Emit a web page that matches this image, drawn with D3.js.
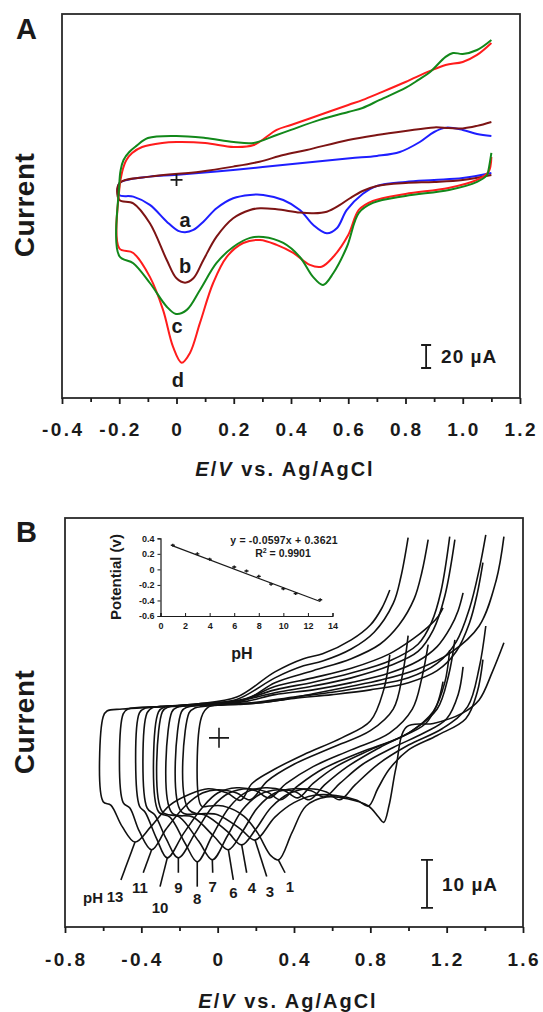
<!DOCTYPE html>
<html>
<head>
<meta charset="utf-8">
<script src="https://cdn.jsdelivr.net/npm/d3@7"></script>
<style>
  body { margin: 0; background: #fff; }
  svg { display: block; font-family: "Liberation Sans", Arial, sans-serif; font-weight: bold; }
</style>
</head>
<body>
<svg id="chart" width="543" height="1012"></svg>
<script>
// ---- panel A: CVs at -0.2..1.1 V, values as [E (V), current (uA)] ----
const xTicksA = [-0.4, -0.2, 0, 0.2, 0.4, 0.6, 0.8, 1.0, 1.2];
const xTickLabelsA = ['-0.4', '-0.2', '0', '0.2', '0.4', '0.6', '0.8', '1.0', '1.2'];
const xMinorA = [-0.3, -0.1, 0.1, 0.3, 0.5, 0.7, 0.9, 1.1];

const cvA_a = [[1.10,6.1],[1.00,1.7],[0.90,0],[0.80,-1.7],[0.70,-5.2],[0.65,-12.2],[0.595,-26.1],[0.56,-42.0],[0.525,-46.3],[0.478,-39.1],[0.431,-26.1],[0.373,-17.4],[0.303,-13.0],[0.257,-13.0],[0.198,-15.9],[0.14,-24.6],[0.094,-36.3],[0.059,-43.5],[0.03,-45.5],[0.006,-44.3],[-0.034,-36.3],[-0.093,-21.7],[-0.151,-14.5],[-0.2,-13.0],[-0.2,-2.9],[-0.093,2.9],[-0.006,4.3],[0.198,8.7],[0.431,14.5],[0.606,18.9],[0.70,20.9],[0.78,24.3],[0.85,33.0],[0.90,41.7],[0.942,45.5],[1.00,43.5],[1.05,40.0],[1.10,38.3]];
const cvA_b = [[1.10,4.3],[1.00,0],[0.90,-1.7],[0.80,-2.6],[0.70,-5.2],[0.65,-9.6],[0.606,-15.9],[0.571,-21.7],[0.525,-27.6],[0.478,-29.0],[0.431,-28.4],[0.35,-25.5],[0.292,-24.6],[0.257,-26.1],[0.198,-33.3],[0.14,-49.3],[0.094,-69.6],[0.059,-85.5],[0.03,-89.3],[0.0,-85.5],[-0.034,-69.6],[-0.093,-37.7],[-0.151,-20.3],[-0.2,-17.4],[-0.2,-2.9],[-0.093,2.9],[0.082,7.2],[0.198,11.6],[0.29,15.9],[0.373,21.7],[0.455,26.1],[0.6,34.8],[0.7,39.1],[0.8,42.6],[0.9,45.7],[0.95,45.2],[1.0,44.8],[1.05,47.0],[1.1,50.4]];
const cvA_c = [[1.10,23.5],[1.09,8.7],[1.085,4.3],[1.05,-1.7],[0.952,-8.7],[0.8,-13.9],[0.686,-20.0],[0.637,-28.7],[0.595,-58.3],[0.548,-80.9],[0.512,-91.3],[0.477,-84.3],[0.431,-67.0],[0.373,-54.8],[0.303,-49.6],[0.257,-50.4],[0.198,-58.3],[0.14,-72.2],[0.082,-95.7],[0.036,-113.0],[-0.002,-116.5],[-0.034,-110.2],[-0.093,-89.6],[-0.151,-72.4],[-0.2,-66.1],[-0.2,-4.3],[-0.195,8.7],[-0.185,17.4],[-0.165,24.3],[-0.14,29.6],[-0.1,36.5],[0.0,38.3],[0.1,36.5],[0.2,33.0],[0.27,32.2],[0.35,39.1],[0.4,43.5],[0.5,52.2],[0.6,59.1],[0.65,62.6],[0.71,69.6],[0.8,80.0],[0.845,87.0],[0.886,93.9],[0.94,107.0],[0.966,110.4],[1.0,109.6],[1.05,113.0],[1.1,121.7]];
const cvA_d = [[1.10,20.0],[1.09,7.0],[1.05,0],[0.95,-7.0],[0.8,-12.2],[0.686,-18.3],[0.637,-26.1],[0.6,-47.8],[0.547,-67.0],[0.507,-75.4],[0.466,-73.9],[0.408,-63.5],[0.35,-56.5],[0.292,-52.2],[0.233,-54.8],[0.175,-67.0],[0.128,-89.6],[0.082,-124.3],[0.047,-150.4],[0.018,-158.9],[-0.012,-145.2],[-0.047,-113.0],[-0.093,-84.3],[-0.151,-63.5],[-0.2,-59.4],[-0.2,-8.7],[-0.19,7.0],[-0.175,17.4],[-0.155,23.5],[-0.12,28.7],[-0.05,32.2],[0.0,33.0],[0.1,32.2],[0.2,28.7],[0.27,30.4],[0.35,43.5],[0.4,47.8],[0.5,56.5],[0.6,65.2],[0.651,69.6],[0.71,75.7],[0.8,85.2],[0.886,94.8],[0.94,100.0],[1.0,102.6],[1.05,108.7],[1.1,119.1]];

const curveNamesA = ['a', 'b', 'd', 'c'];
const curveColoursA = ['#1e1eff', '#7d1414', '#ff1c1c', '#12881a'];
const curveLabelPosA = [[0.03,-34.8],[0.03,-74.8],[0.002,-127],[0.005,-174]]; // a, b, c, d
const curveLabelTextA = ['a', 'b', 'c', 'd'];
const scaleBarA = [0.872, -143.5, 20]; // E, top current, length (uA)

// ---- panel B: CVs at pH 1..13 ----
const xTicksB = [-0.8, -0.4, 0, 0.4, 0.8, 1.2, 1.6];
const xTickLabelsB = ['-0.8', '-0.4', '0', '0.4', '0.8', '1.2', '1.6'];
const xMinorB = [-0.6, -0.2, 0.2, 0.6, 1.0, 1.4];

const cvPH13 = [[0.902,17.3],[0.87,10.0],[0.80,3.5],[0.65,0.0],[0.45,-3.5],[0.30,-6.5],[0.18,-9.5],[0.12,-13.0],[0.05,-11.5],[-0.05,-10.6],[-0.15,-11.8],[-0.25,-14.0],[-0.35,-18.5],[-0.433,-21.7],[-0.50,-18.5],[-0.56,-14.0],[-0.60,-13.3],[-0.60,4.4],[-0.58,5.6],[-0.50,6.0],[-0.30,6.5],[-0.10,7.1],[0.10,8.5],[0.30,13.75],[0.45,16.5],[0.55,17.5],[0.70,20.4],[0.80,23.5],[0.86,27.0],[0.902,30.8]];
const cvPH11 = [[0.998,21.3],[0.97,13.5],[0.92,6.0],[0.80,1.5],[0.60,-2.0],[0.40,-5.5],[0.26,-9.0],[0.17,-12.9],[0.10,-11.5],[0.0,-10.8],[-0.08,-11.5],[-0.17,-14.2],[-0.27,-19.0],[-0.346,-23.3],[-0.41,-19.5],[-0.46,-14.6],[-0.495,-13.5],[-0.495,5.0],[-0.47,6.0],[-0.30,6.5],[-0.10,7.1],[0.10,8.0],[0.30,12.5],[0.45,15.0],[0.55,16.0],[0.70,18.5],[0.82,22.0],[0.92,28.0],[0.96,33.5],[0.998,41.7]];
const cvPH10 = [[1.103,19.4],[1.07,12.5],[1.02,6.0],[0.90,1.0],[0.70,-2.5],[0.50,-6.0],[0.36,-9.5],[0.27,-12.5],[0.20,-11.0],[0.10,-10.4],[0.0,-11.5],[-0.08,-14.5],[-0.18,-20.0],[-0.264,-25.0],[-0.32,-21.0],[-0.38,-15.5],[-0.41,-14.2],[-0.41,5.2],[-0.38,6.2],[-0.20,6.6],[0.0,7.2],[0.15,8.0],[0.30,11.5],[0.50,14.0],[0.70,16.5],[0.85,19.5],[0.95,23.5],[1.03,29.0],[1.07,34.5],[1.103,41.3]];
const cvPH9 = [[1.181,11.7],[1.15,7.0],[1.09,3.0],[0.95,0.0],[0.75,-3.0],[0.55,-6.5],[0.42,-10.0],[0.33,-12.9],[0.26,-11.3],[0.16,-10.6],[0.06,-11.5],[-0.03,-14.5],[-0.12,-20.0],[-0.206,-25.0],[-0.27,-21.0],[-0.33,-16.0],[-0.37,-14.6],[-0.37,5.2],[-0.34,6.3],[-0.20,6.7],[0.0,7.3],[0.15,8.2],[0.30,10.7],[0.50,12.5],[0.70,14.5],[0.90,17.5],[1.02,20.5],[1.10,23.0],[1.15,25.0],[1.181,27.1]];
const cvPH8 = [[1.216,18.3],[1.19,11.5],[1.13,5.5],[1.0,1.0],[0.80,-2.5],[0.62,-6.0],[0.50,-9.5],[0.42,-12.5],[0.35,-11.0],[0.25,-10.4],[0.15,-11.3],[0.06,-14.5],[-0.03,-20.5],[-0.107,-25.8],[-0.17,-22.0],[-0.25,-16.5],[-0.31,-15.4],[-0.31,5.4],[-0.28,6.4],[-0.10,6.8],[0.10,7.6],[0.30,10.0],[0.50,11.6],[0.70,13.5],[0.90,16.0],[1.05,19.5],[1.12,24.0],[1.17,30.5],[1.216,41.9]];
const cvPH7 = [[1.243,20.4],[1.21,13.0],[1.15,6.0],[1.02,1.5],[0.85,-2.0],[0.68,-6.0],[0.56,-9.8],[0.48,-12.9],[0.41,-11.3],[0.32,-10.8],[0.22,-11.8],[0.13,-15.0],[0.05,-20.5],[-0.028,-25.4],[-0.10,-21.5],[-0.20,-16.5],[-0.29,-15.4],[-0.29,5.4],[-0.26,6.4],[-0.10,6.9],[0.10,7.6],[0.30,9.4],[0.50,10.8],[0.70,12.5],[0.90,15.0],[1.05,18.0],[1.13,22.5],[1.19,29.5],[1.243,41.3]];
const cvPH6 = [[1.286,14.8],[1.26,9.0],[1.20,4.0],[1.08,1.0],[0.92,-2.0],[0.76,-5.5],[0.64,-9.5],[0.56,-12.3],[0.49,-11.0],[0.40,-10.6],[0.30,-11.5],[0.21,-14.5],[0.13,-19.5],[0.056,-23.3],[-0.02,-20.5],[-0.13,-16.5],[-0.24,-15.6],[-0.24,5.4],[-0.21,6.4],[0.0,7.0],[0.15,7.6],[0.30,9.0],[0.50,10.0],[0.70,11.5],[0.90,13.5],[1.05,16.0],[1.15,19.0],[1.22,23.0],[1.26,26.5],[1.286,30.2]];
const cvPH4 = [[1.405,23.3],[1.37,14.5],[1.31,6.5],[1.18,2.0],[1.0,-1.5],[0.84,-5.5],[0.72,-9.8],[0.64,-12.9],[0.57,-11.3],[0.48,-10.6],[0.38,-11.5],[0.28,-14.5],[0.20,-19.0],[0.126,-22.3],[0.05,-19.5],[-0.07,-16.0],[-0.19,-15.4],[-0.19,5.4],[-0.16,6.4],[0.0,6.9],[0.20,7.4],[0.40,8.5],[0.60,9.5],[0.80,10.8],[1.0,12.5],[1.15,15.5],[1.25,20.0],[1.32,27.0],[1.37,35.0],[1.405,42.3]];
const cvPH3 = [[1.39,16.3],[1.36,9.5],[1.30,4.0],[1.15,0.5],[1.0,-2.5],[0.90,-6.5],[0.84,-10.5],[0.79,-14.2],[0.73,-13.0],[0.62,-12.0],[0.50,-12.0],[0.40,-13.5],[0.30,-16.5],[0.196,-21.3],[0.12,-19.0],[0.0,-16.0],[-0.15,-15.0],[-0.15,5.2],[-0.12,6.2],[0.0,6.8],[0.20,7.2],[0.40,8.2],[0.60,9.0],[0.80,10.0],[1.0,11.5],[1.15,14.0],[1.25,18.0],[1.32,24.0],[1.36,30.0],[1.39,36.5]];
const cvPH1 = [[1.50,19.8],[1.44,13.8],[1.37,7.9],[1.28,5.1],[1.13,3.0],[0.99,2.3],[0.934,-6.3],[0.898,-14.1],[0.87,-17.6],[0.843,-16.5],[0.79,-14.2],[0.68,-12.7],[0.571,-12.3],[0.463,-14.2],[0.39,-19.7],[0.32,-25.4],[0.28,-24.6],[0.209,-19.8],[0.137,-16.3],[0.028,-14.2],[-0.045,-14.2],[-0.085,-14.2],[-0.085,4.3],[-0.045,6.5],[0.137,7.0],[0.316,7.8],[0.5,9.2],[0.68,10.6],[0.86,12.1],[1.04,14.2],[1.22,17.7],[1.37,23.3],[1.46,32.9],[1.50,41.9]];

const phCurves = [cvPH13, cvPH11, cvPH10, cvPH9, cvPH8, cvPH7, cvPH6, cvPH4, cvPH3, cvPH1];
const phLabels = ['13', '11', '10', '9', '8', '7', '6', '4', '3', '1'];
const phPeaks = [[-0.433,-21.7],[-0.346,-23.3],[-0.264,-25.0],[-0.206,-25.0],[-0.107,-25.8],[-0.028,-25.4],[0.056,-23.3],[0.126,-22.3],[0.196,-21.3],[0.318,-25.4]];
const phLeaderEnds = [[-0.507,-29.6],[-0.390,-28.1],[-0.302,-31.0],[-0.206,-28.1],[-0.107,-31.0],[-0.026,-28.1],[0.082,-29.6],[0.152,-28.1],[0.257,-28.9],[0.353,-28.1]];
const phLabelPos = [[-0.538,-33.1],[-0.407,-31.25],[-0.302,-35.4],[-0.206,-31.25],[-0.107,-33.5],[-0.026,-31.0],[0.082,-32.3],[0.179,-31.25],[0.274,-32.0],[0.379,-31.0]];
const scaleBarB = [1.097, -25.4, 10];

// ---- inset: peak potential vs pH ----
const insetPH = [1, 3, 4, 6, 7, 8, 9, 10, 11, 13];
const insetPotential = [0.31, 0.20, 0.13, 0.03, -0.02, -0.09, -0.19, -0.25, -0.31, -0.39];
const insetFit = [[1, 0.302], [13, -0.414]];
const insetXTicks = [0, 2, 4, 6, 8, 10, 12, 14];
const insetYTicks = [0.4, 0.2, 0, -0.2, -0.4, -0.6];

const svg = d3.select('#chart');
const ink = '#1a1a1a';

function drawPanel({ x, y, top, bottom, left, right, ticks, tickLabels, minor, labelY, titleY, letter, letterY, currentY }) {
  const g = svg.append('g');
  g.append('rect')
    .attr('x', left).attr('y', top)
    .attr('width', right - left).attr('height', bottom - top)
    .attr('fill', 'none').attr('stroke', '#2a2a2a').attr('stroke-width', 1.8);

  g.append('g')
    .attr('transform', `translate(0,${bottom})`)
    .call(d3.axisBottom(x).tickValues(ticks).tickSize(6).tickFormat(''))
    .call((a) => a.select('.domain').remove())
    .selectAll('line').attr('stroke', ink).attr('stroke-width', 1.8);

  g.append('g')
    .attr('transform', `translate(0,${bottom})`)
    .call(d3.axisBottom(x).tickValues(minor).tickSize(4).tickFormat(''))
    .call((a) => a.select('.domain').remove())
    .selectAll('line').attr('stroke', ink).attr('stroke-width', 1.8);

  g.selectAll('text.tick-label')
    .data(ticks)
    .join('text')
    .attr('class', 'tick-label')
    .attr('x', (d) => x(d) + 1.2)
    .attr('y', labelY)
    .attr('text-anchor', 'middle')
    .attr('font-size', 19)
    .attr('letter-spacing', 2.4)
    .attr('fill', ink)
    .text((d, i) => tickLabels[i]);

  const title = g.append('text')
    .attr('x', (left + right) / 2 - 6)
    .attr('y', titleY)
    .attr('text-anchor', 'middle')
    .attr('font-size', 20)
    .attr('letter-spacing', 2)
    .attr('fill', ink);
  title.append('tspan').attr('font-style', 'italic').text('E');
  title.append('tspan').text('/');
  title.append('tspan').attr('font-style', 'italic').text('V');
  title.append('tspan').text(' vs. Ag/AgCl');

  g.append('text')
    .attr('transform', `translate(34,${currentY}) rotate(-90)`)
    .attr('text-anchor', 'middle')
    .attr('font-size', 28)
    .attr('letter-spacing', 0.5)
    .attr('fill', ink)
    .text('Current');

  g.append('text')
    .attr('x', 16).attr('y', letterY)
    .attr('font-size', 29)
    .attr('fill', ink)
    .text(letter);
  return g;
}

function drawScaleBar(g, x, y, bar, label, cap) {
  const top = y(bar[1]);
  const bottom = y(bar[1] - bar[2]);
  const cx = x(bar[0]);
  g.append('path')
    .attr('d', `M${cx},${top}V${bottom}M${cx - cap},${top}H${cx + cap}M${cx - cap},${bottom}H${cx + cap}`)
    .attr('stroke', ink).attr('stroke-width', 1.8).attr('fill', 'none');
  g.append('text')
    .attr('x', cx + 15)
    .attr('y', (top + bottom) / 2 + 7)
    .attr('font-size', 19)
    .attr('letter-spacing', 1)
    .attr('fill', ink)
    .text(label);
}

function drawCross(g, cx, cy, half, width) {
  g.append('path')
    .attr('d', `M${cx - half},${cy}H${cx + half}M${cx},${cy - half}V${cy + half}`)
    .attr('stroke', ink).attr('stroke-width', width);
}

// ---------- Panel A ----------
const xA = d3.scaleLinear().domain([-0.4, 1.2]).range([62, 520]);
const yA = d3.scaleLinear().domain([-189.6, 144.3]).range([398, 14]);
const gA = drawPanel({
  x: xA, y: yA, top: 14, bottom: 398, left: 62, right: 520,
  ticks: xTicksA, tickLabels: xTickLabelsA, minor: xMinorA,
  labelY: 436, titleY: 476, letter: 'A', letterY: 39, currentY: 205
});

const lineA = d3.line()
  .x((d) => xA(d[0]))
  .y((d) => yA(d[1]))
  .curve(d3.curveCatmullRom.alpha(0.5));

const seriesA = { a: cvA_a, b: cvA_b, c: cvA_c, d: cvA_d };
curveNamesA.forEach((name, i) => {
  gA.append('path')
    .datum(seriesA[name])
    .attr('d', lineA)
    .attr('fill', 'none')
    .attr('stroke', curveColoursA[i])
    .attr('stroke-width', 2);
});

gA.selectAll('text.curve-label')
  .data(curveLabelPosA)
  .join('text')
  .attr('class', 'curve-label')
  .attr('x', (d) => xA(d[0]))
  .attr('y', (d) => yA(d[1]))
  .attr('dy', '0.36em')
  .attr('text-anchor', 'middle')
  .attr('font-size', 20)
  .attr('fill', ink)
  .text((d, i) => curveLabelTextA[i]);

drawCross(gA, xA(0), yA(0), 6, 1.8);
drawScaleBar(gA, xA, yA, scaleBarA, '20 µA', 5);

// ---------- Panel B ----------
const xB = d3.scaleLinear().domain([-0.8, 1.6]).range([65, 523]);
const yB = d3.scaleLinear().domain([-39.4, 45.8]).range([927, 518]);
const gB = drawPanel({
  x: xB, y: yB, top: 518, bottom: 927, left: 65, right: 523,
  ticks: xTicksB, tickLabels: xTickLabelsB, minor: xMinorB,
  labelY: 966, titleY: 1008, letter: 'B', letterY: 542, currentY: 722
});

const lineB = d3.line()
  .x((d) => xB(d[0]))
  .y((d) => yB(d[1]))
  .curve(d3.curveCatmullRom.alpha(0.5));

gB.selectAll('path.cv')
  .data(phCurves)
  .join('path')
  .attr('class', 'cv')
  .attr('d', lineB)
  .attr('fill', 'none')
  .attr('stroke', '#111')
  .attr('stroke-width', 1.6);

gB.selectAll('line.leader')
  .data(phPeaks)
  .join('line')
  .attr('class', 'leader')
  .attr('x1', (d) => xB(d[0]))
  .attr('y1', (d) => yB(d[1]))
  .attr('x2', (d, i) => xB(phLeaderEnds[i][0]))
  .attr('y2', (d, i) => yB(phLeaderEnds[i][1]))
  .attr('stroke', '#111')
  .attr('stroke-width', 1.6);

gB.selectAll('text.ph-label')
  .data(phLabelPos)
  .join('text')
  .attr('class', 'ph-label')
  .attr('x', (d) => xB(d[0]))
  .attr('y', (d) => yB(d[1]))
  .attr('dy', '0.36em')
  .attr('text-anchor', 'middle')
  .attr('font-size', 15)
  .attr('fill', ink)
  .text((d, i) => phLabels[i]);

gB.append('text')
  .attr('x', xB(phLabelPos[0][0]) - 12)
  .attr('y', yB(phLabelPos[0][1]) + 1)
  .attr('dy', '0.36em')
  .attr('text-anchor', 'end')
  .attr('font-size', 15)
  .attr('fill', ink)
  .text('pH');

drawCross(gB, xB(0.007), yB(0), 10, 1.6);
drawScaleBar(gB, xB, yB, scaleBarB, '10 µA', 6);

// ---------- Inset ----------
const xIn = d3.scaleLinear().domain([0, 14]).range([160.5, 332.5]);
const yIn = d3.scaleLinear().domain([-0.6, 0.4]).range([616, 538.3]);
const gIn = gB.append('g').attr('font-size', 9);

gIn.append('g')
  .attr('transform', 'translate(160.5,0)')
  .call(d3.axisLeft(yIn).tickValues(insetYTicks).tickSize(3).tickPadding(3).tickFormat((d, i) => ['0.4', '0.2', '0', '-0.2', '-0.4', '-0.6'][i]))
  .call((a) => a.select('.domain').attr('stroke', ink).attr('stroke-width', 1.2))
  .call((a) => a.selectAll('line').attr('stroke', ink))
  .call((a) => a.selectAll('text').attr('font-size', 9).attr('fill', ink).attr('font-weight', 'bold'));

gIn.append('g')
  .attr('transform', 'translate(0,616)')
  .call(d3.axisBottom(xIn).tickValues(insetXTicks).tickSize(-3).tickPadding(7).tickFormat(d3.format('d')))
  .call((a) => a.select('.domain').attr('stroke', ink).attr('stroke-width', 1.2))
  .call((a) => a.selectAll('line').attr('stroke', ink))
  .call((a) => a.selectAll('text').attr('font-size', 9).attr('fill', ink).attr('font-weight', 'bold'));

gIn.append('line')
  .attr('x1', xIn(insetFit[0][0])).attr('y1', yIn(insetFit[0][1]))
  .attr('x2', xIn(insetFit[1][0])).attr('y2', yIn(insetFit[1][1]))
  .attr('stroke', ink).attr('stroke-width', 1.2);

gIn.selectAll('path.pt')
  .data(insetPH)
  .join('path')
  .attr('class', 'pt')
  .attr('d', (d, i) => {
    const cx = xIn(d), cy = yIn(insetPotential[i]);
    return `M${cx - 2},${cy}H${cx + 2}M${cx},${cy - 1.5}V${cy + 1.5}`;
  })
  .attr('stroke', ink).attr('stroke-width', 1.4);

gIn.append('text')
  .attr('transform', 'translate(121,577) rotate(-90)')
  .attr('text-anchor', 'middle')
  .attr('font-size', 15)
  .attr('fill', ink)
  .text('Potential (v)');

gIn.append('text')
  .attr('x', 242).attr('y', 659)
  .attr('text-anchor', 'middle')
  .attr('font-size', 16)
  .attr('fill', ink)
  .text('pH');

gIn.append('text')
  .attr('x', 284).attr('y', 544)
  .attr('text-anchor', 'middle')
  .attr('font-size', 10.5)
  .attr('letter-spacing', 0.2)
  .attr('fill', ink)
  .text('y = -0.0597x + 0.3621');

const r2 = gIn.append('text')
  .attr('x', 283).attr('y', 557)
  .attr('text-anchor', 'middle')
  .attr('font-size', 10.5)
  .attr('fill', ink);
r2.append('tspan').text('R');
r2.append('tspan').attr('font-size', 7).attr('dy', -4).text('2');
r2.append('tspan').attr('dy', 4).text(' = 0.9901');
</script>
</body>
</html>
